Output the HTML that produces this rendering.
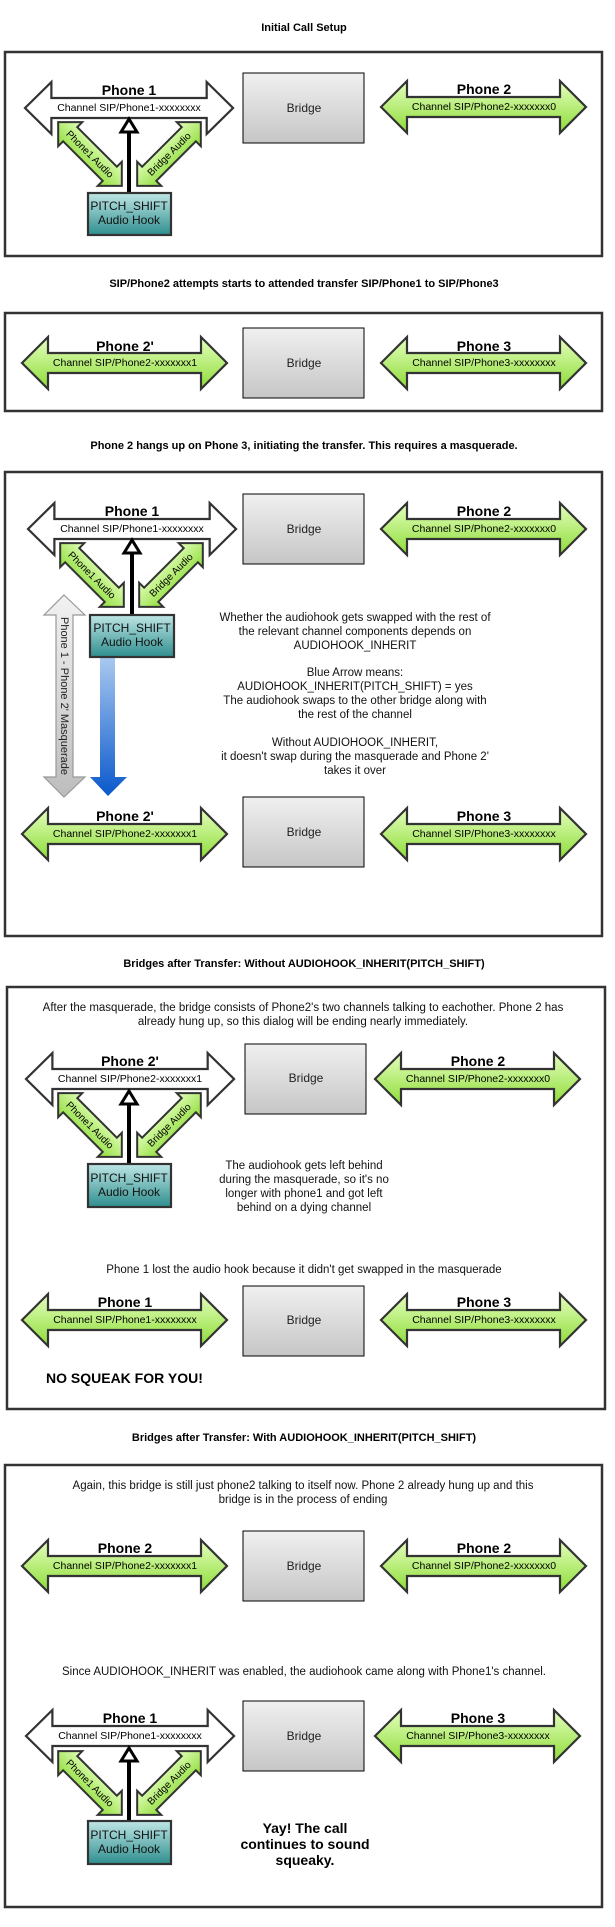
<!DOCTYPE html>
<html><head><meta charset="utf-8"><style>
html,body{margin:0;padding:0;background:#fff}
svg{display:block}
text{font-family:"Liberation Sans",sans-serif}
</style></head><body>
<svg width="615" height="1927" viewBox="0 0 615 1927" xmlns="http://www.w3.org/2000/svg">
<defs>
<linearGradient id="gr" x1="0" y1="0" x2="0" y2="1"><stop offset="0" stop-color="#e4ffbe"/><stop offset="1" stop-color="#8edc38"/></linearGradient>
<linearGradient id="br" x1="0" y1="0" x2="0" y2="1"><stop offset="0" stop-color="#f0f0f0"/><stop offset="1" stop-color="#c6c6c6"/></linearGradient>
<linearGradient id="hk" x1="0" y1="0" x2="0" y2="1"><stop offset="0" stop-color="#bfe6e6"/><stop offset="1" stop-color="#2f8e8e"/></linearGradient>
<linearGradient id="gy" x1="0" y1="0" x2="0" y2="1"><stop offset="0" stop-color="#f2f2f2"/><stop offset="1" stop-color="#bdbdbd"/></linearGradient>
<linearGradient id="bl" x1="0" y1="0" x2="0" y2="1"><stop offset="0" stop-color="#a9c9f0"/><stop offset="1" stop-color="#0a58cc"/></linearGradient>
<polygon id="big" points="0,26 26,0 26,16 179,16 179,0 205,26 179,52 179,36 26,36 26,52 0,26"/>
<polygon id="dia" points="-45,0 -28,-17 -28,-10 28,-10 28,-17 45,0 28,17 28,10 -28,10 -28,17"/>
</defs>

<g fill="none" stroke="#333" stroke-width="2.5">
<rect x="5" y="52" width="597" height="204"/>
<rect x="5" y="313" width="597" height="98"/>
<rect x="5" y="472" width="597" height="464"/>
<rect x="7" y="987" width="598" height="422"/>
<rect x="5" y="1465" width="597" height="442"/>
</g>

<g font-weight="bold" font-size="11" text-anchor="middle" fill="#000">
<text x="304" y="31">Initial Call Setup</text>
<text x="304" y="287">SIP/Phone2 attempts starts to attended transfer SIP/Phone1 to SIP/Phone3</text>
<text x="304" y="449">Phone 2 hangs up on Phone 3, initiating the transfer. This requires a masquerade.</text>
<text x="304" y="967">Bridges after Transfer: Without AUDIOHOOK_INHERIT(PITCH_SHIFT)</text>
<text x="304" y="1441">Bridges after Transfer: With AUDIOHOOK_INHERIT(PITCH_SHIFT)</text>
</g>

<g stroke="#333" stroke-width="2.2">
<use href="#big" fill="#fff" transform="translate(25,82) scale(1.015,1)"/>
<use href="#big" fill="url(#gr)" transform="translate(381,81)"/>
<use href="#big" fill="url(#gr)" transform="translate(22,337)"/>
<use href="#big" fill="url(#gr)" transform="translate(381,337)"/>
<use href="#big" fill="#fff" transform="translate(28,503) scale(1.015,1)"/>
<use href="#big" fill="url(#gr)" transform="translate(381,503)"/>
<use href="#big" fill="url(#gr)" transform="translate(22,808)"/>
<use href="#big" fill="url(#gr)" transform="translate(381,808)"/>
<use href="#big" fill="#fff" transform="translate(26,1053) scale(1.015,1)"/>
<use href="#big" fill="url(#gr)" transform="translate(375,1053)"/>
<use href="#big" fill="url(#gr)" transform="translate(22,1294)"/>
<use href="#big" fill="url(#gr)" transform="translate(381,1294)"/>
<use href="#big" fill="url(#gr)" transform="translate(22,1540)"/>
<use href="#big" fill="url(#gr)" transform="translate(381,1540)"/>
<use href="#big" fill="#fff" transform="translate(26,1710) scale(1.015,1)"/>
<use href="#big" fill="url(#gr)" transform="translate(375,1710)"/>
</g>

<g font-weight="bold" font-size="14" text-anchor="middle" fill="#000">
<text x="129" y="95">Phone 1</text>
<text x="484" y="94">Phone 2</text>
<text x="125" y="351">Phone 2'</text>
<text x="484" y="351">Phone 3</text>
<text x="132" y="516">Phone 1</text>
<text x="484" y="516">Phone 2</text>
<text x="125" y="821">Phone 2'</text>
<text x="484" y="821">Phone 3</text>
<text x="130" y="1066">Phone 2'</text>
<text x="478" y="1066">Phone 2</text>
<text x="125" y="1307">Phone 1</text>
<text x="484" y="1307">Phone 3</text>
<text x="125" y="1553">Phone 2</text>
<text x="484" y="1553">Phone 2</text>
<text x="130" y="1723">Phone 1</text>
<text x="478" y="1723">Phone 3</text>
</g>
<g font-size="10.5" text-anchor="middle" fill="#000">
<text x="129" y="111">Channel SIP/Phone1-xxxxxxxx</text>
<text x="484" y="110">Channel SIP/Phone2-xxxxxxx0</text>
<text x="125" y="366">Channel SIP/Phone2-xxxxxxx1</text>
<text x="484" y="366">Channel SIP/Phone3-xxxxxxxx</text>
<text x="132" y="532">Channel SIP/Phone1-xxxxxxxx</text>
<text x="484" y="532">Channel SIP/Phone2-xxxxxxx0</text>
<text x="125" y="837">Channel SIP/Phone2-xxxxxxx1</text>
<text x="484" y="837">Channel SIP/Phone3-xxxxxxxx</text>
<text x="130" y="1082">Channel SIP/Phone2-xxxxxxx1</text>
<text x="478" y="1082">Channel SIP/Phone2-xxxxxxx0</text>
<text x="125" y="1323">Channel SIP/Phone1-xxxxxxxx</text>
<text x="484" y="1323">Channel SIP/Phone3-xxxxxxxx</text>
<text x="125" y="1569">Channel SIP/Phone2-xxxxxxx1</text>
<text x="484" y="1569">Channel SIP/Phone2-xxxxxxx0</text>
<text x="130" y="1739">Channel SIP/Phone1-xxxxxxxx</text>
<text x="478" y="1739">Channel SIP/Phone3-xxxxxxxx</text>
</g>

<g fill="url(#br)" stroke="#000" stroke-width="1">
<rect x="243" y="73" width="121" height="70"/>
<rect x="243" y="328" width="121" height="70"/>
<rect x="243" y="494" width="121" height="70"/>
<rect x="243" y="797" width="121" height="70"/>
<rect x="245" y="1044" width="121" height="70"/>
<rect x="243" y="1286" width="121" height="70"/>
<rect x="243" y="1531" width="121" height="70"/>
<rect x="243" y="1701" width="121" height="70"/>
</g>
<g font-size="12" text-anchor="middle" fill="#222">
<text x="304" y="112">Bridge</text>
<text x="304" y="367">Bridge</text>
<text x="304" y="533">Bridge</text>
<text x="304" y="836">Bridge</text>
<text x="306" y="1082">Bridge</text>
<text x="304" y="1324">Bridge</text>
<text x="304" y="1570">Bridge</text>
<text x="304" y="1740">Bridge</text>
</g>

<g stroke="#333" stroke-width="2" fill="url(#gr)">
<use href="#dia" transform="translate(90,154) rotate(45)"/>
<use href="#dia" transform="translate(169,154) rotate(-45)"/>
<use href="#dia" transform="translate(92,575) rotate(45)"/>
<use href="#dia" transform="translate(171,575) rotate(-45)"/>
<use href="#dia" transform="translate(90,1125) rotate(45)"/>
<use href="#dia" transform="translate(169,1125) rotate(-45)"/>
<use href="#dia" transform="translate(90,1783) rotate(45)"/>
<use href="#dia" transform="translate(169,1783) rotate(-45)"/>
</g>
<g font-size="10" text-anchor="middle" fill="#000">
<text transform="translate(90,154) rotate(45) translate(0,3.5)">Phone1 Audio</text>
<text transform="translate(169,154) rotate(-45) translate(0,3.5)">Bridge Audio</text>
<text transform="translate(92,575) rotate(45) translate(0,3.5)">Phone1 Audio</text>
<text transform="translate(171,575) rotate(-45) translate(0,3.5)">Bridge Audio</text>
<text transform="translate(90,1125) rotate(45) translate(0,3.5)">Phone1 Audio</text>
<text transform="translate(169,1125) rotate(-45) translate(0,3.5)">Bridge Audio</text>
<text transform="translate(90,1783) rotate(45) translate(0,3.5)">Phone1 Audio</text>
<text transform="translate(169,1783) rotate(-45) translate(0,3.5)">Bridge Audio</text>
</g>

<polygon points="64,595 85,615 73,615 73,777 85,777 64,797 44,777 56,777 56,615 44,615" fill="url(#gy)" stroke="#999" stroke-width="1.2"/>
<text transform="translate(61,696) rotate(90)" font-size="11" text-anchor="middle" fill="#222">Phone 1 - Phone 2' Masquerade</text>
<polygon points="100,657 115,657 115,777 127,777 108,796 90,777 100,777" fill="url(#bl)"/>

<g stroke="#000" stroke-width="4">
<line x1="129" y1="193" x2="129" y2="131"/>
<line x1="132" y1="615" x2="132" y2="553"/>
<line x1="129" y1="1164" x2="129" y2="1103"/>
<line x1="129" y1="1821" x2="129" y2="1760"/>
</g>
<g fill="#fff" stroke="#000" stroke-width="3">
<polygon points="121,132 137,132 129,119"/>
<polygon points="124,553 140,553 132,540"/>
<polygon points="121,1104 137,1104 129,1091"/>
<polygon points="121,1761 137,1761 129,1748"/>
</g>

<g fill="url(#hk)" stroke="#333" stroke-width="2.2">
<rect x="88" y="193" width="83" height="42"/>
<rect x="90" y="615" width="84" height="42"/>
<rect x="88" y="1164" width="83" height="43"/>
<rect x="88" y="1821" width="83" height="43"/>
</g>
<g font-size="12" text-anchor="middle" fill="#111">
<text x="129" y="210">PITCH_SHIFT</text><text x="129" y="224">Audio Hook</text>
<text x="132" y="632">PITCH_SHIFT</text><text x="132" y="646">Audio Hook</text>
<text x="129" y="1182">PITCH_SHIFT</text><text x="129" y="1196">Audio Hook</text>
<text x="129" y="1839">PITCH_SHIFT</text><text x="129" y="1853">Audio Hook</text>
</g>

<g font-size="11.5" text-anchor="middle" fill="#111">
<text x="355" y="621">Whether the audiohook gets swapped with the rest of</text>
<text x="355" y="635">the relevant channel components depends on</text>
<text x="355" y="649">AUDIOHOOK_INHERIT</text>
<text x="355" y="676">Blue Arrow means:</text>
<text x="355" y="690">AUDIOHOOK_INHERIT(PITCH_SHIFT) = yes</text>
<text x="355" y="704">The audiohook swaps to the other bridge along with</text>
<text x="355" y="718">the rest of the channel</text>
<text x="355" y="746">Without AUDIOHOOK_INHERIT,</text>
<text x="355" y="760">it doesn't swap during the masquerade and Phone 2'</text>
<text x="355" y="774">takes it over</text>

<text x="303" y="1011">After the masquerade, the bridge consists of Phone2's two channels talking to eachother. Phone 2 has</text>
<text x="303" y="1025">already hung up, so this dialog will be ending nearly immediately.</text>
<text x="304" y="1169">The audiohook gets left behind</text>
<text x="304" y="1183">during the masquerade, so it's no</text>
<text x="304" y="1197">longer with phone1 and got left</text>
<text x="304" y="1211">behind on a dying channel</text>
<text x="304" y="1273">Phone 1 lost the audio hook because it didn't get swapped in the masquerade</text>

<text x="303" y="1489">Again, this bridge is still just phone2 talking to itself now. Phone 2 already hung up and this</text>
<text x="303" y="1503">bridge is in the process of ending</text>
<text x="304" y="1675">Since AUDIOHOOK_INHERIT was enabled, the audiohook came along with Phone1's channel.</text>
</g>
<g font-weight="bold" font-size="14" fill="#000">
<text x="46" y="1383">NO SQUEAK FOR YOU!</text>
<text x="305" y="1833" text-anchor="middle">Yay! The call</text>
<text x="305" y="1849" text-anchor="middle">continues to sound</text>
<text x="305" y="1865" text-anchor="middle">squeaky.</text>
</g>
</svg>
</body></html>
